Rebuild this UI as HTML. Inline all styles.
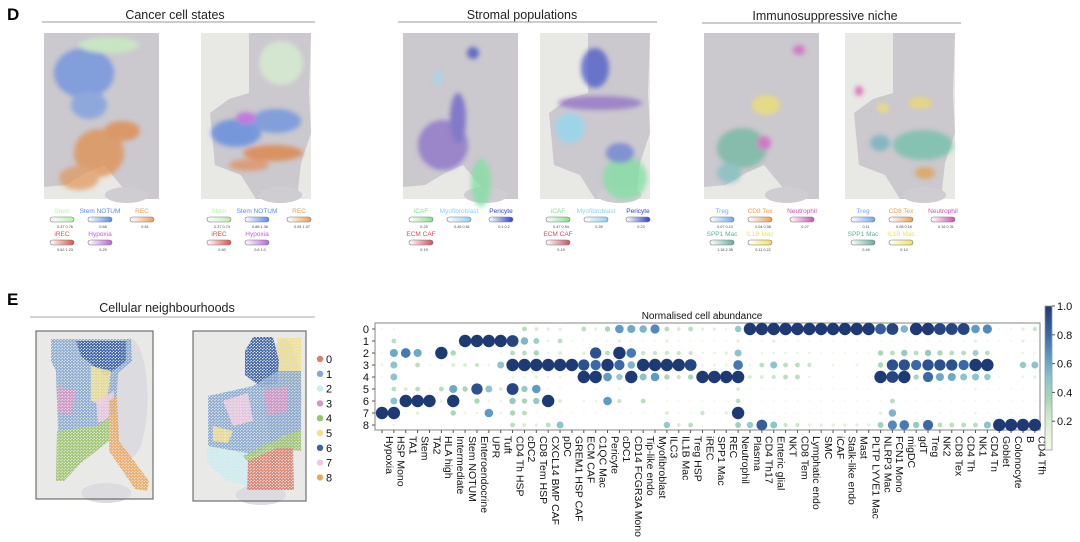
<!DOCTYPE html>
<html><head><meta charset="utf-8"><style>
body{margin:0;background:#fff;font-family:"Liberation Sans",sans-serif}
svg text{font-family:"Liberation Sans",sans-serif}
</style></head><body>
<svg id="fig" width="1080" height="537" viewBox="0 0 1080 537" xmlns="http://www.w3.org/2000/svg">
<defs>
<filter id="blur" x="-50%" y="-50%" width="200%" height="200%"><feGaussianBlur stdDeviation="2.5"/></filter>
<linearGradient id="cbar" x1="0" y1="1" x2="0" y2="0">
<stop offset="0" stop-color="#f7fcf0"/><stop offset="0.2" stop-color="#d8eed0"/><stop offset="0.35" stop-color="#a8d8b8"/><stop offset="0.5" stop-color="#8cc4cc"/><stop offset="0.65" stop-color="#5e9ac8"/><stop offset="0.8" stop-color="#3a68a8"/><stop offset="1" stop-color="#1e3a74"/>
</linearGradient>
</defs>
<g id="panelD">
<text x="7" y="20" font-size="17" font-weight="bold">D</text>
<text x="175" y="19" font-size="12.5" text-anchor="middle" fill="#222">Cancer cell states</text>
<line x1="42" y1="22" x2="315" y2="22" stroke="#999" stroke-width="1"/>
<text x="522" y="19" font-size="12.5" text-anchor="middle" fill="#222">Stromal populations</text>
<line x1="398" y1="22" x2="657" y2="22" stroke="#999" stroke-width="1"/>
<text x="825" y="20" font-size="12.5" text-anchor="middle" fill="#222">Immunosuppressive niche</text>
<line x1="702" y1="23" x2="961" y2="23" stroke="#999" stroke-width="1"/>
<g id="tissues"></g>
<g id="legends"></g>
</g>
<g id="panelE">
<text x="7" y="305" font-size="17" font-weight="bold">E</text>
<text x="167" y="312" font-size="12.5" text-anchor="middle" fill="#222">Cellular neighbourhoods</text>
<line x1="30" y1="317" x2="315" y2="317" stroke="#aaa" stroke-width="1"/>
<g id="nbh"></g>
<g id="nbhLegend"></g>
<g id="dotplot"></g>
</g>
</svg>
<script>
const NS='http://www.w3.org/2000/svg';
function mk(tag,attrs,parent){const e=document.createElementNS(NS,tag);for(const k in attrs)e.setAttribute(k,attrs[k]);if(parent)parent.appendChild(e);return e;}

// ---------- Dot plot data ----------
const categories=["Hypoxia","HSP Mono","TA1","Stem","TA2","HLA high","Intermediate","Stem NOTUM","Enteroendocrine","UPR","Tuft","CD4 Th HSP","cDC2","CD8 Tem HSP","CXCL14 BMP CAF","pDC","GREM1 HSP CAF","ECM CAF","C1QC Mac","Pericyte","cDC1","CD14 FCGR3A Mono","Tip-like endo","Myofibroblast","ILC3","IL1B Mac","Treg HSP","iREC","SPP1 Mac","REC","Neutrophil","Plasma","CD4 Th17","Enteric glial","NKT","CD8 Tem","Lymphatic endo","SMC","iCAF","Stalk-like endo","Mast","PLTP LYVE1 Mac","NLRP3 Mac","FCN1 Mono","migDC","gdT","Treg","NK2","CD8 Tex","CD4 Th","NK1","CD4 Tn","Goblet","Colonocyte","B","CD4 Tfh"];
const neighbourhoods=["0","1","2","3","4","5","6","7","8"];
const row0=[.05,.05,0,0,0,0,0,0,0,0,0,.05,.3,.2,.15,.15,0,.3,.15,.35,.65,.6,.55,.7,.3,.2,.3,.15,.15,.1,.45,1,1,1,1,1,1,1,1,1,1,1,.85,.95,.55,1,1,.95,.95,.95,.65,.7,.05,.05,.15,.25];
const row1=[0,.3,0,0,0,0,0,1,1,1,1,.95,.55,.4,.1,.3,.05,.05,.05,.05,.15,.05,.05,.05,.15,.05,.05,.05,.05,.05,.15,.05,.05,.15,.05,.05,.05,.05,.05,.05,.05,.05,.05,.05,.05,.05,.05,.05,.05,.05,.15,.05,.05,.05,.15,.05];
const row2=[.05,.6,.75,.6,.05,1,.35,0,0,0,.05,.3,.3,.35,.1,.2,0,.15,.9,.3,1,.75,.25,.25,.25,.25,.25,.1,.1,.15,.5,0,.1,.1,.1,.1,.1,.05,.05,.05,.05,.05,.35,.3,.45,.3,.45,.35,.3,.3,.4,.3,0,0,.1,.05];
const row3=[.1,.5,.05,.3,.05,.05,.2,.2,.25,.1,.5,1,1,1,1,1,1,.9,.8,1,.8,.55,1,1,1,1,.95,.1,.1,.1,.75,.1,.3,.5,.3,.3,.25,0,.1,0,.1,0,.35,.9,.9,.8,.9,.9,.9,.8,1,1,0,0,.45,.5];
const row4=[.05,.5,0,0,0,0,0,0,0,0,0,.1,.1,.15,.1,.1,0,1,1,.65,.45,1,.5,.65,.35,.25,.35,1,1,1,1,.2,.2,.25,.3,.3,.1,0,.05,0,.05,.05,1,.95,1,.35,.8,.6,.6,.5,.5,.45,.05,0,.1,.15];
const row5=[0,.3,.2,.3,.05,.3,.6,.35,.9,.5,.2,.95,.45,.65,.05,.05,0,.05,.05,0,.1,.05,0,0,.05,0,0,0,0,0,.2,.03,.03,.03,.03,.03,.03,.03,.03,.03,.03,.03,.05,.05,.05,.03,.03,.03,.03,.03,.1,.03,.03,.03,.03,.03];
const row6=[0,.5,1,1,1,.15,1,0,.35,.1,.1,.45,.35,.45,1,.2,0,.1,.1,.65,.25,0,.3,0,.05,.03,.03,.03,.03,.03,.3,.03,.03,.03,.03,.03,.03,.03,.03,.03,.03,.03,.03,.3,.03,.03,.03,.03,.03,.03,.05,.03,.03,.03,.03,.03];
const row7=[1,1,.05,.15,0,0,.35,.1,.1,.65,.1,.35,.3,.05,.05,.05,.03,.03,.03,.03,.03,.03,.03,.03,.2,.05,.05,.25,.03,.15,1,.03,.03,.03,.03,.03,.03,.03,.03,.03,.03,.03,.15,.55,.03,.03,.03,.03,.03,.03,.1,.03,.03,.03,.03,.03];
const row8=[0,.1,0,0,0,0,0,0,0,0,0,.3,.2,.15,.3,.5,0,0,0,0,0,0,0,0,.45,.2,.3,0,0,0,.4,.45,.85,.5,.25,.25,.15,.15,.15,.15,.15,.15,.4,.7,.75,.45,.8,.3,.3,.3,.3,.5,1,1,1,1];
const abundance=[row0,row1,row2,row3,row4,row5,row6,row7,row8];
const colorbarTicks=["0.2","0.4","0.6","0.8","1.0"];
const colorbarTickValues=[0.2,0.4,0.6,0.8,1.0];

// axes
const X0=382,DX=11.87,Y0=329,DY=12;
const xScale=i=>X0+i*DX;
const yScale=r=>Y0+r*DY;
const rScale=v=>0.8+v*5.4;
const stops=[[0,[247,252,240]],[0.2,[216,238,208]],[0.35,[168,216,184]],[0.5,[140,196,204]],[0.65,[94,154,200]],[0.8,[58,104,168]],[1,[30,58,116]]];
function cmap(v){for(let i=1;i<stops.length;i++){if(v<=stops[i][0]){const a=stops[i-1],b=stops[i],t=(v-a[0])/(b[0]-a[0]);const c=a[1].map((x,k)=>Math.round(x+(b[1][k]-x)*t));return `rgb(${c})`;}}return 'rgb(30,58,116)';}

const dp=document.getElementById('dotplot');
const tt=mk('text',{x:702,y:319,'font-size':10,'text-anchor':'middle',fill:'#111'},dp);
tt.textContent='Normalised cell abundance';


const frame=mk('rect',{x:375,y:323,width:665,height:107,fill:'none',stroke:'#999','stroke-width':1.2},dp);


neighbourhoods.forEach((n,r)=>{
  const t=mk('text',{x:369,y:yScale(r)+4,'font-size':11,'text-anchor':'end',fill:'#111'},dp);
  t.textContent=n;
  
  
  mk('line',{x1:372,x2:375,y1:yScale(r),y2:yScale(r),stroke:'#555'},dp);
});
categories.forEach((c,i)=>{
  const x=xScale(i);
  mk('line',{x1:x,x2:x,y1:430,y2:433,stroke:'#555'},dp);
  const t=mk('text',{x:0,y:0,'font-size':10.5,fill:'#111',transform:`translate(${x+3.8},436) rotate(90)`},dp);
  t.textContent=c;
  
  
});
abundance.forEach((row,r)=>{
  row.forEach((v,i)=>{
    if(v<=0)return;
    const d=mk('circle',{cx:xScale(i),cy:yScale(r),r:rScale(v),fill:cmap(v)},dp);
    
    
  });
});
// colorbar
const CB_TOP=306,CB_BOT=450;
const cbY=v=>CB_BOT-(CB_BOT-CB_TOP)*v;
const cb=mk('rect',{x:1045,y:CB_TOP,width:7,height:CB_BOT-CB_TOP,fill:'url(#cbar)',stroke:'#999','stroke-width':0.8},dp);


colorbarTickValues.forEach((v,k)=>{
  mk('line',{x1:1052,x2:1055,y1:cbY(v),y2:cbY(v),stroke:'#555'},dp);
  const t=mk('text',{x:1057,y:cbY(v)+4,'font-size':11,fill:'#111'},dp);
  t.textContent=colorbarTicks[k];
  
  
});

// ---------- Tissue images (panel D) ----------
const shapeA="0,0 115,0 115,166 88,166 75,150 60,132 42,140 22,152 0,154";
const shapeB="48,0 110,0 108,60 110,100 100,130 96,166 55,166 40,142 14,132 9,80 28,66 48,60";
const tissues=[
 {x:44,w:115,s:shapeA,p:[[40,40,30,25,'#6a90e0'],[45,72,18,14,'#7a9ee0'],[65,12,30,8,'#c8f0c0'],[55,120,25,24,'#e09050'],[78,98,18,10,'#e08848'],[35,145,20,12,'#e09a60']]},
 {x:201,w:110,s:shapeB,p:[[35,100,25,14,'#5a88e0'],[75,88,25,12,'#6a90e0'],[45,85,10,6,'#c060e0'],[72,120,30,8,'#e08040'],[48,132,20,6,'#e09060'],[80,30,22,22,'#d8f0d0']]},
 {x:403,w:115,s:shapeA,p:[[40,112,25,25,'#8a70c8'],[55,85,8,25,'#6a60c8'],[78,150,10,24,'#80e0a0'],[35,45,4,8,'#a0d8f0'],[70,20,6,6,'#4050c0']]},
 {x:540,w:110,s:shapeB,p:[[55,35,14,20,'#4858c8'],[60,70,42,7,'#9070c8'],[30,95,15,15,'#90d8f0'],[85,145,22,22,'#80e0a0'],[80,120,14,10,'#6a80d0']]},
 {x:704,w:115,s:shapeA,p:[[38,115,25,20,'#70b8a0'],[62,72,14,10,'#f0e070'],[95,17,6,5,'#d060c0'],[60,110,7,7,'#d060c0'],[25,140,12,10,'#80c0c0']]},
 {x:845,w:110,s:shapeB,p:[[78,112,30,15,'#70c0a8'],[35,110,10,8,'#70b0c0'],[38,75,6,5,'#f0e070'],[75,70,12,6,'#f0d870'],[14,58,4,5,'#d050b0'],[80,140,10,6,'#e0a050']]}
];
const tg=document.getElementById('tissues');
tissues.forEach((t,k)=>{
  const g=mk('g',{transform:`translate(${t.x},33)`},tg);
  
  
  mk('rect',{x:0,y:0,width:t.w,height:166,fill:'#e8e8e4'},g);
  mk('polygon',{points:t.s,fill:'#cbc8ce'},g);
  mk('ellipse',{cx:t.w*0.72,cy:162,rx:22,ry:8,fill:'#cfccd2'},g);
  const pg=mk('g',{filter:'url(#blur)',opacity:0.75},g);
  t.p.forEach(p=>mk('ellipse',{cx:p[0],cy:p[1],rx:p[2],ry:p[3],fill:p[4]},pg));
});
// legends
const legendDefs=[
 {x:44,items:[['Stem','#b8f0b0',0,'0.37  0.76'],['Stem NOTUM','#5a8ae8',1,'0.68'],['REC','#e8a060',2,'0.61'],['iREC','#e05040',3,'0.62  1.23'],['Hypoxia','#c060e0',4,'0.29']]},
 {x:201,items:[['Stem','#b8f0b0',0,'0.37  0.74'],['Stem NOTUM','#5a8ae8',1,'0.88  1.36'],['REC','#e8a060',2,'0.94  1.07'],['iREC','#e05040',3,'0.60'],['Hypoxia','#c060e0',4,'0.6  1.0']]},
 {x:403,items:[['iCAF','#80e090',0,'0.29'],['Myofibroblast','#90d0f0',1,'0.46  0.61'],['Pericyte','#3040d0',2,'0.1  0.2'],['ECM CAF','#d05060',3,'0.19']]},
 {x:540,items:[['iCAF','#80e090',0,'0.47  0.94'],['Myofibroblast','#90d0f0',1,'0.39'],['Pericyte','#3040d0',2,'0.23'],['ECM CAF','#d05060',3,'0.19']]},
 {x:704,items:[['Treg','#70a8f0',0,'0.07  0.13'],['CD8 Tex','#e8a050',1,'0.04  0.08'],['Neutrophil','#d050b0',2,'0.27'],['SPP1 Mac','#60b0a0',3,'1.18  2.35'],['IL1B Mac','#f0e060',4,'0.11  0.22']]},
 {x:845,items:[['Treg','#70a8f0',0,'0.11'],['CD8 Tex','#e8a050',1,'0.08  0.16'],['Neutrophil','#d050b0',2,'0.16  0.31'],['SPP1 Mac','#60b0a0',3,'0.49'],['IL1B Mac','#f0e060',4,'0.14']]}
];
const slotX=[4,42,84,4,42],slotY=[217,217,217,240,240];
const lg=document.getElementById('legends');
legendDefs.forEach((L,k)=>{
  L.items.forEach(it=>{
    const bx=L.x+slotX[it[2]],by=slotY[it[2]];
    const gid='lgr'+k+'_'+it[2];
    const gr=mk('linearGradient',{id:gid},document.querySelector('defs'));
    mk('stop',{offset:0,'stop-color':'#fff'},gr);mk('stop',{offset:1,'stop-color':it[1]},gr);
    const t=mk('text',{x:bx+14,y:by-4,'font-size':6.5,'text-anchor':'middle',fill:it[1]},lg);
    t.textContent=it[0];
    
    
    const r=mk('rect',{x:bx+2,y:by,width:24,height:5,rx:2.5,fill:`url(#${gid})`,stroke:'#777','stroke-width':0.6},lg);
    
    
    const v=mk('text',{x:bx+17,y:by+11,'font-size':3.8,'text-anchor':'middle',fill:'#444'},lg);
    v.textContent=it[3];
    
    
  });
});

// ---------- Neighbourhood maps (panel E) ----------
const nbColors=["#d9806e","#86a8d0","#c8eef2","#d595c5","#9ac46a","#f0e08a","#3d63a8","#f0c8e0","#eba860"];
const defs=document.querySelector('defs');
nbColors.forEach((c,i)=>{
  const p=mk('pattern',{id:'pt'+i,width:3.2,height:3,patternUnits:'userSpaceOnUse'},defs);
  mk('circle',{cx:0.8,cy:0.8,r:1.15,fill:c},p);
  mk('circle',{cx:2.4,cy:2.3,r:1.15,fill:c},p);
});
const nb=document.getElementById('nbh');
const boxes=[
 {x:36,y:331,w:117,h:168,regions:[
   ['15,8 95,8 96,30 82,42 80,80 62,95 22,100 20,40 15,30',1],
   ['40,10 90,10 90,30 70,45 45,25',6],['55,35 75,40 70,75 55,70',5],['22,55 40,60 35,85 22,80',3],['60,70 78,60 78,85 62,92',7],
   ['21,100 62,95 74,85 73,110 45,132 28,150 20,150',4],
   ['73,70 81,65 83,110 113,150 111,160 99,158 73,120',8]]},
 {x:193,y:331,w:113,h:170,regions:[
   ['84,7 108,7 108,60 86,60',5],['52,20 60,6 80,6 86,30 84,52 68,56 52,44',6],
   ['15,65 60,55 85,40 108,40 108,100 90,105 60,125 40,120 15,115',1],['30,70 55,62 60,90 40,95',7],['70,60 95,55 95,80 75,85',3],['20,95 40,100 35,112 20,110',5],
   ['14,115 55,122 55,155 35,150 14,132',2],
   ['50,125 80,110 108,98 108,120 82,118 56,132',4],
   ['55,130 84,117 100,117 101,159 54,159',0]]}
];
boxes.forEach((b,k)=>{
  const g=mk('g',{transform:`translate(${b.x},${b.y})`},nb);
  
  
  mk('rect',{x:0,y:0,width:b.w,height:b.h,fill:'#e9e9e7'},g);
  mk('ellipse',{cx:b.w*0.8,cy:b.h*0.4,rx:18,ry:60,fill:'#dcdce0'},g);
  mk('ellipse',{cx:b.w*0.6,cy:b.h-6,rx:25,ry:10,fill:'#dcdce0'},g);
  b.regions.forEach(r=>{
    const pl=mk('polygon',{points:r[0],fill:`url(#pt${r[1]})`},g);
    
    
  });
  mk('rect',{x:0,y:0,width:b.w,height:b.h,fill:'none',stroke:'#555','stroke-width':1},g);
});
const nl=document.getElementById('nbhLegend');
nbColors.forEach((c,i)=>{
  const y=359+i*14.8;
  const d=mk('circle',{cx:320,cy:y,r:3.2,fill:c},nl);
  
  
  const t=mk('text',{x:326,y:y+4,'font-size':11,fill:'#111'},nl);
  t.textContent=String(i);
  
  
});
</script>
</body></html>
